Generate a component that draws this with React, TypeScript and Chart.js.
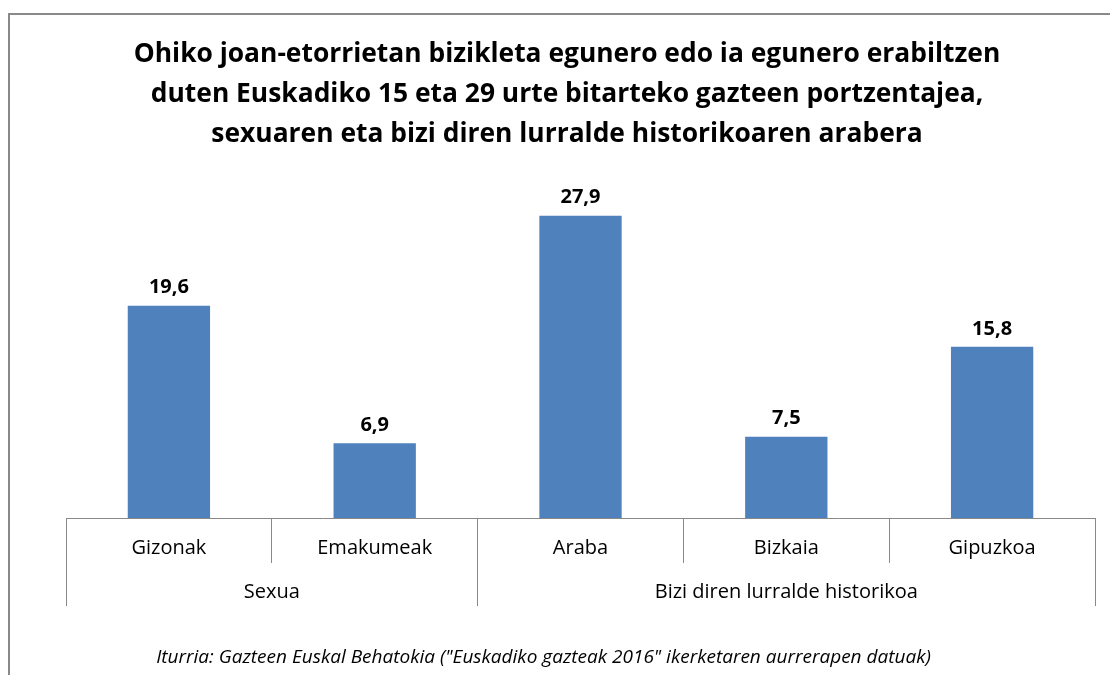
import React, { useEffect, useRef } from "react";
import { Chart, registerables } from "chart.js";

Chart.register(...registerables);

const TITLE_LINES = [
  "Ohiko joan-etorrietan bizikleta egunero edo ia egunero erabiltzen",
  "duten Euskadiko 15 eta 29 urte bitarteko gazteen portzentajea,",
  "sexuaren eta bizi diren lurralde historikoaren arabera",
];
const CATEGORIES = ["Gizonak", "Emakumeak", "Araba", "Bizkaia", "Gipuzkoa"];
const VALUES = [19.6, 6.9, 27.9, 7.5, 15.8];
const GROUPS = ["Sexua", "Bizi diren lurralde historikoa"];
const GROUP_SIZES = [2, 3];
const SOURCE =
  'Iturria: Gazteen Euskal Behatokia ("Euskadiko gazteak 2016" ikerketaren aurrerapen datuak)';

const FONT = "'Open Sans', 'Noto Sans', sans-serif";
const LINE_COLOR = "#898989";

const fmt = (v: number) => v.toFixed(1).replace(".", ",");
const align = (p: number) => Math.round(p - 0.5) + 0.5;

const annotations = {
  id: "annotations",
  beforeDraw(chart: any) {
    const ctx = chart.ctx;
    ctx.save();
    ctx.fillStyle = "#ffffff";
    ctx.fillRect(0, 0, chart.width, chart.height);
    ctx.fillStyle = LINE_COLOR;
    ctx.fillRect(8, 13, chart.width - 8, 2);
    ctx.fillRect(8, 13, 2, chart.height - 13);
    ctx.restore();
  },
  afterDraw(chart: any) {
    const ctx = chart.ctx;
    const xs = chart.scales.x;
    const meta = chart.getDatasetMeta(0);
    const step = xs.getPixelForValue(1) - xs.getPixelForValue(0);
    const top = xs.top;
    ctx.save();
    ctx.fillStyle = "#000000";
    ctx.textAlign = "center";
    ctx.textBaseline = "middle";

    // value labels
    ctx.font = `bold 20px ${FONT}`;
    meta.data.forEach((bar: any, i: number) => {
      ctx.fillText(fmt(VALUES[i]), bar.x, bar.y - 18);
    });

    // category labels
    ctx.font = `20px ${FONT}`;
    CATEGORIES.forEach((c, i) => {
      ctx.fillText(c, xs.getPixelForValue(i), top + 30);
    });

    // group labels and group boundaries
    ctx.strokeStyle = LINE_COLOR;
    ctx.lineWidth = 1;
    let start = 0;
    const bounds: number[] = [xs.getPixelForValue(0) - step / 2];
    GROUPS.forEach((g, gi) => {
      const end = start + GROUP_SIZES[gi] - 1;
      const cx = (xs.getPixelForValue(start) + xs.getPixelForValue(end)) / 2;
      ctx.fillText(g, cx, top + 74);
      bounds.push(xs.getPixelForValue(end) + step / 2);
      start = end + 1;
    });
    bounds.forEach((b) => {
      ctx.beginPath();
      ctx.moveTo(align(b), top);
      ctx.lineTo(align(b), top + 88);
      ctx.stroke();
    });

    // source
    ctx.font = `italic 19px ${FONT}`;
    ctx.fillText(SOURCE, 543.5, 658);
    ctx.restore();
  },
};

export default function App() {
  const ref = useRef<HTMLCanvasElement | null>(null);
  useEffect(() => {
    if (!ref.current) return;
    const chart = new Chart(ref.current, {
      type: "bar",
      data: {
        labels: CATEGORIES,
        datasets: [
          {
            data: VALUES,
            backgroundColor: "#4f81bd",
            borderWidth: 0,
            barPercentage: 0.4,
            categoryPercentage: 1.0,
          },
        ],
      },
      options: {
        responsive: false,
        animation: false,
        devicePixelRatio: 1,
        events: [],
        layout: { padding: { left: 39, right: 15, top: 0, bottom: 112 } },
        plugins: {
          legend: { display: false },
          tooltip: { enabled: false },
          title: {
            display: true,
            text: TITLE_LINES,
            color: "#000000",
            font: { family: FONT, size: 26.4, weight: "bold", lineHeight: "40px" },
            padding: { top: 34, bottom: 39 },
          },
        },
        scales: {
          x: {
            display: true,
            ticks: { display: false },
            grid: {
              display: true,
              drawOnChartArea: false,
              drawTicks: true,
              tickLength: 45,
              color: LINE_COLOR,
              lineWidth: 1,
            },
            border: { display: true, color: LINE_COLOR, width: 1 },
          },
          y: {
            display: true,
            min: 0,
            max: 30,
            ticks: { display: false },
            grid: { display: false },
            border: { display: false },
            afterFit: (s: any) => {
              s.width = 27;
            },
          },
        },
      },
      plugins: [annotations],
    });
    return () => chart.destroy();
  }, []);
  return (
    <div style={{ position: "fixed", left: 0, top: 0, width: 1110, height: 675, overflow: "hidden" }}>
      <canvas ref={ref} width={1110} height={675} style={{ display: "block" }} />
    </div>
  );
}
